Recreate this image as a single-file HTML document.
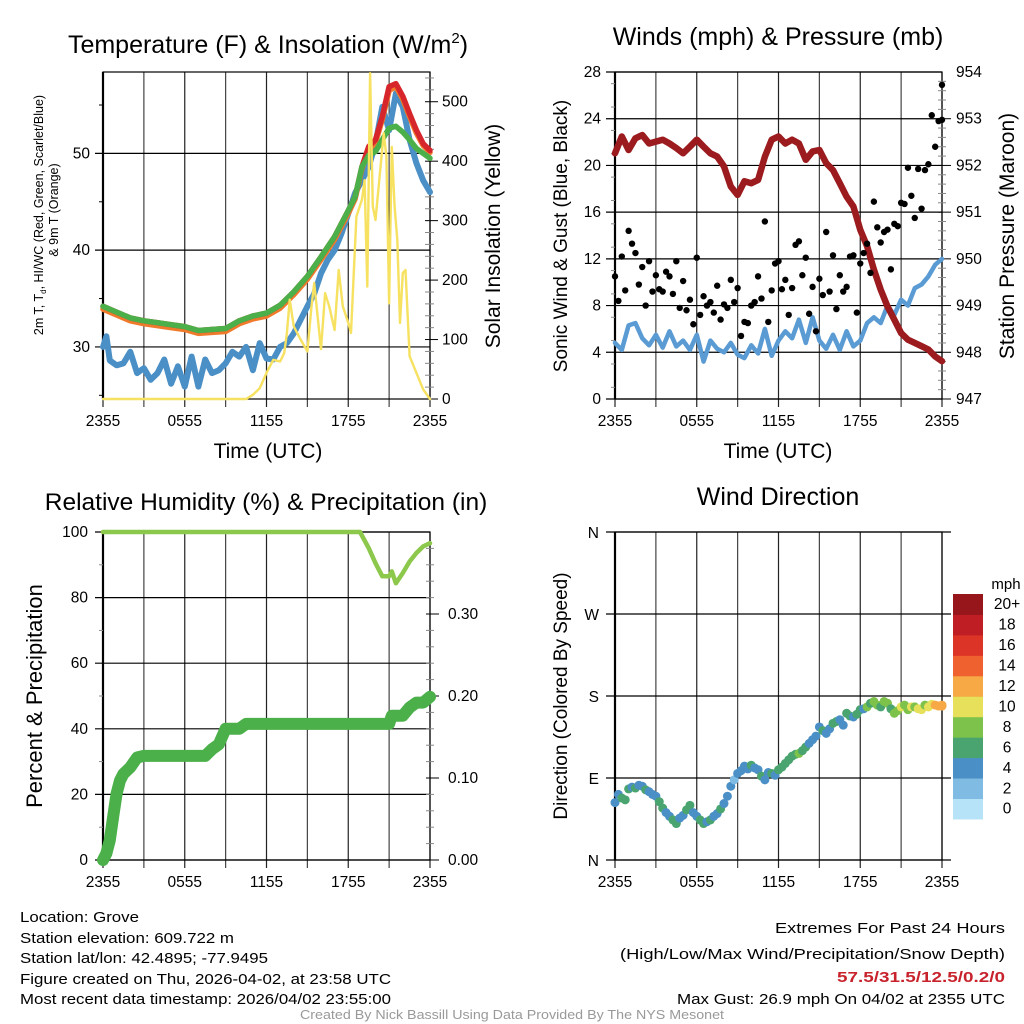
<!DOCTYPE html>
<html><head><meta charset="utf-8"><style>
html,body{margin:0;padding:0;background:#fff}
svg{display:block;font-family:"Liberation Sans",sans-serif}
</style></head><body>
<svg id="c" width="1024" height="1024" viewBox="0 0 1024 1024" xmlns="http://www.w3.org/2000/svg">
<g id="g1"></g>
<g id="g2"></g>
<g id="g3"></g>
<g id="g4"></g>
<g id="foot" font-size="15" fill="#000">
<text x="20" y="922" textLength="119" lengthAdjust="spacingAndGlyphs">Location: Grove</text>
<text x="20" y="943" textLength="214" lengthAdjust="spacingAndGlyphs">Station elevation: 609.722 m</text>
<text x="20" y="963" textLength="248" lengthAdjust="spacingAndGlyphs">Station lat/lon: 42.4895; -77.9495</text>
<text x="20" y="984" textLength="371" lengthAdjust="spacingAndGlyphs">Figure created on Thu, 2026-04-02, at 23:58 UTC</text>
<text x="20" y="1004" textLength="371" lengthAdjust="spacingAndGlyphs">Most recent data timestamp: 2026/04/02 23:55:00</text>
<text x="1005" y="933" text-anchor="end" textLength="230" lengthAdjust="spacingAndGlyphs">Extremes For Past 24 Hours</text>
<text x="1005" y="959" text-anchor="end" textLength="385" lengthAdjust="spacingAndGlyphs">(High/Low/Max Wind/Precipitation/Snow Depth)</text>
<text x="1005" y="982" text-anchor="end" font-weight="bold" fill="#c8232c" textLength="168" lengthAdjust="spacingAndGlyphs">57.5/31.5/12.5/0.2/0</text>
<text x="1005" y="1004" text-anchor="end" textLength="328" lengthAdjust="spacingAndGlyphs">Max Gust: 26.9 mph On 04/02 at 2355 UTC</text>
<text x="512" y="1019" text-anchor="middle" font-size="13" fill="#999" textLength="424" lengthAdjust="spacingAndGlyphs">Created By Nick Bassill Using Data Provided By The NYS Mesonet</text>
</g>
</svg>
<script>
// ---- data ----
const hoursTemp=[0,1,2,3,4,5,6,7,8,9,10,11,12,13,14,15,16,17,18,18.5,19,19.5,20,20.5,21,21.5,22,22.5,23,23.5,24];
const tempGreen=[34.2,33.6,33.0,32.7,32.5,32.3,32.1,31.7,31.8,31.9,32.7,33.2,33.5,34.3,35.7,37.3,39.3,41.4,44.1,45.5,48.6,49.8,50.2,51.4,52.6,52.8,52.2,51.4,50.5,50.0,49.5];
const tempRed=[34.2,33.6,33.0,32.7,32.5,32.3,32.1,31.7,31.8,31.9,32.7,33.2,33.5,34.3,35.7,37.3,39.3,41.4,44.1,45.5,48.6,50.7,51.4,53.8,56.9,57.2,55.9,54.1,52.4,51.0,50.3];
const tempOrange=[33.9,33.3,32.7,32.4,32.2,32.0,31.8,31.4,31.5,31.6,32.4,32.9,33.2,34.0,35.4,37.0,39.0,41.1,43.8,45.3,48.4,50.4,51.1,53.5,56.5,56.9,55.6,53.8,52.1,50.8,50.1];
const hoursDew=[0,0.25,0.5,1,1.5,2,2.5,3,3.5,4,4.5,5,5.5,6,6.5,7,7.5,8,8.5,9,9.5,10,10.5,11,11.5,12,12.5,13,13.5,14,14.5,15,15.5,16,16.5,17,17.5,18,18.5,19,19.5,20,20.5,21,21.5,22,22.5,23,23.5,24];
const dewBlue=[30.0,31.1,28.6,28.1,28.3,29.5,27.3,27.8,26.6,27.3,28.7,26.2,28.0,25.9,29.0,25.9,28.7,27.3,27.6,28.3,29.5,29.0,30.0,27.6,30.4,28.8,28.7,30.0,30.4,31.4,32.8,34.2,35.5,37.6,39.0,40.0,41.7,43.8,45.9,47.2,48.6,51.0,54.8,52.4,56.2,54.8,51.4,49.0,47.2,46.0];
const hoursSolar=[0,10.5,11,11.5,12,12.5,13,13.3,13.5,13.7,14,14.5,15,15.3,15.5,16,16.3,16.6,17,17.3,17.6,18,18.2,18.6,19,19.2,19.4,19.6,19.8,20,20.3,20.6,20.8,21,21.2,21.4,21.6,21.8,22,22.2,22.5,23,23.5,24];
const solar=[0,0,7,18,44,66,63,77,111,167,122,100,80,156,195,84,178,156,116,217,156,128,111,307,335,368,189,548,324,301,374,447,408,161,424,324,268,128,212,217,72,44,16,0];
const hoursHalf=[0,0.5,1,1.5,2,2.5,3,3.5,4,4.5,5,5.5,6,6.5,7,7.5,8,8.5,9,9.5,10,10.5,11,11.5,12,12.5,13,13.5,14,14.5,15,15.5,16,16.5,17,17.5,18,18.5,19,19.5,20,20.5,21,21.5,22,22.5,23,23.5,24];
const pressure=[952.26,952.62,952.33,952.58,952.65,952.47,952.51,952.55,952.47,952.37,952.26,952.40,952.55,952.40,952.26,952.19,951.98,951.55,951.37,951.66,951.62,951.69,952.19,952.55,952.62,952.47,952.55,952.47,952.12,952.30,952.33,952.05,951.90,951.62,951.33,951.12,950.62,950.27,949.77,949.34,948.98,948.70,948.41,948.27,948.20,948.13,948.06,947.91,947.81];
const windSpeed=[4.8,4.2,6.3,6.5,5.2,4.6,5.5,4.4,5.8,4.5,5.0,4.2,5.5,3.2,5.0,4.3,4.0,4.8,3.8,3.5,4.6,3.9,6.0,3.7,5.0,5.8,5.2,6.8,4.8,7.0,5.0,4.3,5.5,4.2,5.8,4.5,5.0,6.5,7.0,6.5,8.0,7.2,8.5,8.0,9.5,9.8,10.5,11.5,12.0];
const gustA=[10.5,12.2,14.4,12.5,11.3,11.8,10.6,9.2,10.5,11.8,10.1,8.5,12.1,8.8,8.3,9.7,8.1,10.2,9.5,6.6,8.0,10.5,15.2,9.3,11.8,10.2,9.5,13.5,12.1,9.6,10.3,14.3,12.3,10.6,9.6,12.3,11.6,13.3,16.9,13.4,14.5,15.0,16.8,19.8,15.5,16.3,20.1,21.6,23.9];
const gustB=[8.4,9.3,13.3,9.8,8.0,9.2,9.4,10.9,9.0,7.8,7.6,6.4,7.2,8.0,7.4,6.8,7.8,8.3,5.4,6.5,8.3,8.6,6.6,11.6,9.4,7.2,13.2,10.6,7.3,5.8,8.9,9.2,7.7,9.2,12.2,7.4,12.5,10.8,14.7,14.3,11.1,14.8,16.7,17.4,19.7,19.6,24.3,23.8,26.9];
const windDir=[63,68,78,79,81,75,70,57,48,40,49,60,48,40,44,51,62,81,95,103,104,99,88,95,99,106,114,117,124,132,146,139,150,154,161,157,165,168,174,168,172,161,168,165,168,165,168,170,169];
const dirSpeed=[4.5,6.5,6.8,6.2,4.5,4.8,5.5,6.5,4.8,6.3,4.5,6.5,4.5,6.8,6.6,4.5,4.2,4.5,4.5,4.4,6.6,4.6,4.5,6.5,6.2,7.0,6.5,8.2,6.4,4.6,4.5,4.4,6.8,4.6,6.3,4.5,6.5,8.5,8.3,6.5,8.4,8.8,10.5,9.0,8.6,10.4,10.8,12.5,12.2];
const windDirB=[72,66,80,82,77,72,64,52,44,46,55,52,44,42,48,56,70,88,98,100,101,92,96,93,102,110,116,120,128,136,142,144,152,148,158,160,166,172,170,174,166,164,170,168,166,170,171,169,170];
const dirSpeedB=[4.3,6.4,4.5,4.6,6.2,4.5,6.1,4.4,6.5,4.6,6.4,4.5,6.5,4.7,4.4,6.6,4.3,3.5,4.6,4.5,4.4,6.8,4.6,4.5,6.3,6.5,7.2,6.4,4.5,4.7,6.6,4.6,6.5,4.5,6.6,6.5,4.5,6.8,8.6,8.2,6.5,8.7,9.0,10.3,10.6,8.4,11.0,12.3,12.6];
const hoursRH=[0,18.86,19.5,20,20.5,21,21.2,21.5,22,22.5,23,23.5,24];
const rh=[100,100,95.1,90.5,86.5,86.5,88,84.4,87.5,91,93.6,95.6,96.6];
const hoursPrecip=[0,0.25,0.5,0.75,1,1.25,1.5,2,2.5,3,7.5,8,8.5,9,10,10.5,21,21.2,22,22.5,23,23.5,24];
const precip=[0,0.008,0.024,0.053,0.081,0.097,0.105,0.113,0.125,0.127,0.127,0.135,0.141,0.160,0.160,0.166,0.166,0.176,0.176,0.186,0.192,0.192,0.199];
const xTickLabels=["2355","0555","1155","1755","2355"];
const dirLabels=["N","E","S","W","N"];
const cbLabels=["0","2","4","6","8","10","12","14","16","18","20+"];
const cbColors=["#b6e3f7","#80bbe3","#4a8fc6","#4aa46f","#7dc24a","#e6e05a","#f6a945","#ef6230","#dd3428","#bf1e24","#97161b"];

const NS="http://www.w3.org/2000/svg";
function el(parent,tag,attrs,text){const e=document.createElementNS(NS,tag);for(const k in attrs)e.setAttribute(k,attrs[k]);if(text!==undefined)e.textContent=text;parent.appendChild(e);return e;}
function mkX(x0,x1){return h=>x0+h/24*(x1-x0);}
function mkY(y0,y1,v0,v1){return v=>y1-(v-v0)/(v1-v0)*(y1-y0);}
function polyline(g,xs,ys,fx,fy,color,w,name){
  const pts=xs.map((h,i)=>fx(h).toFixed(1)+","+fy(ys[i]).toFixed(1)).join(" ");
  const p=el(g,"polyline",{points:pts,fill:"none",stroke:color,"stroke-width":w,"stroke-linejoin":"round","stroke-linecap":"round"});
  
  
  return p;
}
function frame(g,x0,x1,y0,y1,fx){
  for(let k=0;k<=8;k++){const x=fx(k*3);
    const l=el(g,"line",{x1:x,x2:x,y1:y0,y2:y1+8,stroke:k%2?"#444":"#222","stroke-width":1.2});
    
    }
  for(let k=0;k<5;k++){const t=el(g,"text",{x:fx(k*6),y:y1+27,"text-anchor":"middle","font-size":15.5},xTickLabels[k]);
    
    }
  el(g,"rect",{x:x0,y:y0,width:x1-x0,height:y1-y0,fill:"none",stroke:"#000","stroke-width":1.2});
  el(g,"line",{x1:x0,x2:x0,y1:y0,y2:y1,stroke:"#000","stroke-width":2.2});
}
function hgrid(g,x0,x1,y,len){const l=el(g,"line",{x1:x0-len,x2:x1,y1:y,y2:y,stroke:"#000","stroke-width":1.2});}
function label(g,x,y,txt,anchor,size,name){const t=el(g,"text",{x:x,y:y,"text-anchor":anchor,"font-size":size},txt);return t;}
function vlabel(g,x,y,txt,size,name){const t=el(g,"text",{x:0,y:0,"text-anchor":"middle","font-size":size,transform:`translate(${x},${y}) rotate(-90)`},txt);return t;}

// ---- Panel 1 ----
(function(){
  const g=document.getElementById("g1"),x0=103,x1=430,y0=72,y1=399;
  const fx=mkX(x0,x1),fy=mkY(y0,y1,24.62,58.41),fs=mkY(y0,y1,0,550);
  const t=el(g,"text",{x:268,y:53,"text-anchor":"middle","font-size":25});
  
  t.appendChild(document.createTextNode("Temperature (F) & Insolation (W/m"));
  el(t,"tspan",{dy:-10,"font-size":15},"2");el(t,"tspan",{dy:10},")");
  frame(g,x0,x1,y0,y1,fx);
  [30,40,50].forEach(v=>{hgrid(g,x0,x1,fy(v),8);label(g,x0-13,fy(v)+5,String(v),"end",15.5,"y-tick-label");});
  [25,35,45,55].forEach(v=>el(g,"line",{x1:x0-4,x2:x0,y1:fy(v),y2:fy(v),stroke:"#000"}));
  for(let v=0;v<=540;v+=20){el(g,"line",{x1:x1-5,x2:x1+(v%100?4:8),y1:fs(v),y2:fs(v),stroke:v%100?"#888":"#000"});}
  for(let v=0;v<=500;v+=100)label(g,x1+12,fs(v)+5,String(v),"start",15.5,"right-tick-label");
  polyline(g,hoursDew,dewBlue,fx,fy,"#4a8fc6",6,"dewpoint-line");
  polyline(g,hoursTemp,tempOrange,fx,fy,"#f07a2c",5.5,"temp-9m-line");
  polyline(g,hoursTemp,tempRed,fx,fy,"#d7262b",5.5,"temp-2m-line");
  polyline(g,hoursTemp.slice(0,21),tempGreen.slice(0,21),fx,fy,"#4bb04a",5.5,"hiwc-line");
  polyline(g,hoursTemp.slice(20),tempGreen.slice(20),fx,fy,"#4bb04a",5.5,"hiwc-line-late");
  polyline(g,hoursSolar,solar,fx,fs,"#f6e160",2.4,"insolation-line");
  label(g,268,458,"Time (UTC)","middle",21,"x-axis-title");
  const a=vlabel(g,43,215,"2m T, T",12.5,"y-axis-title-line1");
  el(a,"tspan",{"font-size":8,dy:3},"d");
  el(a,"tspan",{dy:-3},", HI/WC (Red, Green, Scarlet/Blue)");
  vlabel(g,58,210,"& 9m T (Orange)",12.5,"y-axis-title-line2");
  vlabel(g,500,236,"Solar Insolation (Yellow)",21,"right-axis-title");
})();

// ---- Panel 2 ----
(function(){
  const g=document.getElementById("g2"),x0=615,x1=942,y0=72,y1=399;
  const fx=mkX(x0,x1),fy=mkY(y0,y1,0,28),fp=mkY(y0,y1,947,954);
  label(g,778,45,"Winds (mph) & Pressure (mb)","middle",25,"chart-title");
  frame(g,x0,x1,y0,y1,fx);
  for(let v=0;v<=28;v+=4){hgrid(g,x0,x1,fy(v),9);label(g,x0-14,fy(v)+5,String(v),"end",15.5,"y-tick-label");}
  for(let v=1;v<28;v+=2)el(g,"line",{x1:x0-4,x2:x0,y1:fy(v),y2:fy(v),stroke:"#888"});
  for(let v=947;v<=954;v+=0.2){const maj=Math.abs(v-Math.round(v))<0.01;el(g,"line",{x1:x1-4,x2:x1+(maj?9:4),y1:fp(v),y2:fp(v),stroke:maj?"#000":"#888"});}
  for(let v=947;v<=954;v++)label(g,x1+14,fp(v)+5,String(v),"start",15.5,"right-tick-label");
  polyline(g,hoursHalf,windSpeed,fx,fy,"#5a9bd4",4.5,"wind-speed-line");
  polyline(g,hoursHalf,pressure,fx,fp,"#9b1b1e",6.5,"pressure-line");
  hoursHalf.forEach((h,i)=>{
    const a=el(g,"circle",{cx:fx(h),cy:fy(gustA[i]),r:3.2,fill:"#000"});
    
    
    const b=el(g,"circle",{cx:fx(h+0.25>24?24:h+0.25),cy:fy(gustB[i]),r:3.2,fill:"#000"});
    
    
  });
  label(g,778,458,"Time (UTC)","middle",21,"x-axis-title");
  vlabel(g,567,236,"Sonic Wind & Gust (Blue, Black)",19,"y-axis-title");
  vlabel(g,1014,236,"Station Pressure (Maroon)",21,"right-axis-title");
})();

// ---- Panel 3 ----
(function(){
  const g=document.getElementById("g3"),x0=103,x1=430,y0=532,y1=860;
  const fx=mkX(x0,x1),fy=mkY(y0,y1,0,100),fr=mkY(y0,y1,0,0.4);
  label(g,266,510,"Relative Humidity (%) & Precipitation (in)","middle",24.5,"chart-title");
  frame(g,x0,x1,y0,y1,fx);
  for(let v=0;v<=100;v+=20){hgrid(g,x0,x1,fy(v),8);label(g,x0-15,fy(v)+5,String(v),"end",15.5,"y-tick-label");}
  for(let v=10;v<100;v+=20)el(g,"line",{x1:x0-4,x2:x0,y1:fy(v),y2:fy(v),stroke:"#888"});
  for(let v=0;v<=0.39;v+=0.02){const maj=Math.round(v*100)%10===0;el(g,"line",{x1:x1-4,x2:x1+(maj?9:4),y1:fr(v),y2:fr(v),stroke:maj?"#000":"#888"});}
  ["0.00","0.10","0.20","0.30"].forEach((s,i)=>label(g,x1+18,fr(i*0.1)+5,s,"start",15.5,"right-tick-label"));
  polyline(g,hoursPrecip,precip,fx,fr,"#4bb04a",12,"precipitation-line");
  polyline(g,hoursRH,rh,fx,fy,"#8cc84b",4.5,"humidity-line");
  vlabel(g,42,696,"Percent & Precipitation",22,"y-axis-title");
})();

// ---- Panel 4 ----
(function(){
  const g=document.getElementById("g4"),x0=615,x1=942,y0=532,y1=860;
  const fx=mkX(x0,x1),fy=mkY(y0,y1,0,360);
  label(g,778,505,"Wind Direction","middle",25,"chart-title");
  frame(g,x0,x1,y0,y1,fx);
  dirLabels.forEach((s,i)=>{hgrid(g,x0,x1+9,fy(i*90),9);label(g,x0-16,fy(i*90)+6,s,"end",15.5,"y-tick-label");});
  hoursHalf.forEach((h,i)=>{
    const idx=Math.min(10,Math.floor(dirSpeed[i]/2));
    const c=el(g,"circle",{cx:fx(h),cy:fy(windDir[i]),r:4.5,fill:cbColors[idx]});
    
    
    const hb=Math.min(24,h+0.25);
    const idxB=Math.min(10,Math.floor(dirSpeedB[i]/2));
    const d=el(g,"circle",{cx:fx(hb),cy:fy(windDirB[i]),r:4.5,fill:cbColors[idxB]});
    
    
  });
  vlabel(g,567,696,"Direction (Colored By Speed)",19,"y-axis-title");
  const h=20.45,top=594;
  label(g,1006,589,"mph","middle",15,"colorbar-title");
  cbColors.forEach((col,i)=>{
    const y=top+(10-i)*h;
    const r=el(g,"rect",{x:953,y:y,width:30,height:h+0.5,fill:col});
    
    
    label(g,1007,y+h/2+5,cbLabels[i],"middle",15.5,"colorbar-label");
  });
})();
</script>
</body></html>
